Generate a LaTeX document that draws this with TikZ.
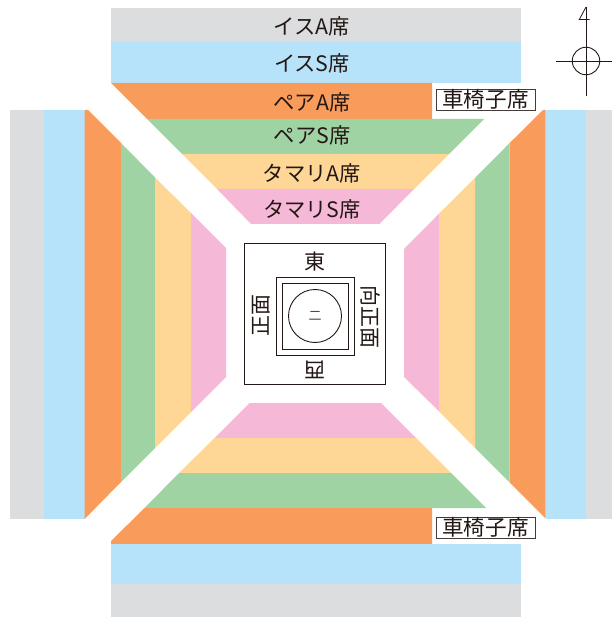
\documentclass[tikz,border=0pt]{standalone}
\usepackage{fontspec}
\setmainfont{Noto Sans CJK JP}
\usepackage{xcolor}
\definecolor{seatgray}{HTML}{DCDDDE}
\definecolor{seatblue}{HTML}{B6E3F9}
\definecolor{seatorange}{HTML}{F99C5B}
\definecolor{seatgreen}{HTML}{A0D3A3}
\definecolor{seatyellow}{HTML}{FED695}
\definecolor{seatpink}{HTML}{F5B8D6}
\definecolor{inkline}{HTML}{231815}

\begin{document}
\begin{tikzpicture}[
    x=1pt, y=-1pt,
    seat/.style={font=\fontsize{21.3}{25}\selectfont, text=inkline, inner sep=0pt},
    side/.style={font=\fontsize{21}{25}\selectfont, text=inkline, inner sep=0pt},
    wheel/.style={draw=inkline!85, line width=0.6pt, fill=white, font=\fontsize{21.6}{25}\selectfont, text=inkline, inner sep=0pt, minimum width=99pt, minimum height=21.4pt, text height=17pt, text depth=2pt},
    ring/.style={draw=inkline, line width=0.9pt}
]
\useasboundingbox (0,0) rectangle (612,617);

% top block
\fill[seatgray] (111,8.5) rectangle (521,42.5);
\fill[seatblue] (111,42.5) rectangle (521,83);
\fill[seatorange] (111,83) -- (432,83) -- (432,119) -- (147,119) -- cycle;
\fill[seatgreen] (147,119) -- (484,119) -- (449,154) -- (182,154) -- cycle;
\fill[seatyellow] (182,154) -- (449,154) -- (414,189) -- (217,189) -- cycle;
\fill[seatpink] (217,189) -- (414,189) -- (379.5,224) -- (251,224) -- cycle;

% bottom block
\fill[seatpink] (249.5,403) -- (381,403) -- (416,438) -- (214.5,438) -- cycle;
\fill[seatyellow] (214.5,438) -- (416,438) -- (451,473) -- (179,473) -- cycle;
\fill[seatgreen] (179,473) -- (451,473) -- (486,508) -- (144.5,508) -- cycle;
\fill[seatorange] (144.5,508) -- (432,508) -- (432,544) -- (111,544) -- (111,541) -- cycle;
\fill[seatblue] (111,544) rectangle (521,584.3);
\fill[seatgray] (111,584.3) rectangle (521,617);

% left block
\fill[seatgray] (9.5,110) rectangle (43.7,519);
\fill[seatblue] (43.7,110) rectangle (84.7,519);
\fill[seatorange] (84.7,110) -- (88,110) -- (121,143) -- (121,482) -- (84.7,519) -- cycle;
\fill[seatgreen] (121,143) -- (155,177.5) -- (155,448) -- (121,482) -- cycle;
\fill[seatyellow] (155,177.5) -- (191,213) -- (191,412) -- (155,448) -- cycle;
\fill[seatpink] (191,213) -- (226,248) -- (226,377) -- (191,412) -- cycle;

% right block
\fill[seatgray] (586,110) rectangle (612,518.5);
\fill[seatblue] (545.7,110) rectangle (586,518.5);
\fill[seatorange] (545.7,110) -- (543,110) -- (509.7,143) -- (509.7,482.7) -- (545.7,518.5) -- cycle;
\fill[seatgreen] (509.7,143) -- (475,178) -- (475,448) -- (509.7,482.7) -- cycle;
\fill[seatyellow] (475,178) -- (439.7,213) -- (439.7,412) -- (475,448) -- cycle;
\fill[seatpink] (439.7,213) -- (404,249) -- (404,377) -- (439.7,412) -- cycle;

% seat names
\node[seat] (isuA) at (312,26) {イスA席};
\node[seat] (isuS) at (312,63) {イスS席};
\node[seat] (pairA) at (312,102) {ペアA席};
\node[seat] (pairS) at (312,135) {ペアS席};
\node[seat] (tamariA) at (312,173) {タマリA席};
\node[seat] (tamariS) at (312,209) {タマリS席};
\node[wheel] (wheelN) at (485.5,100) {車椅子席};
\node[wheel] (wheelS) at (485.5,527.5) {車椅子席};

% ring
\node[ring, minimum width=141pt, minimum height=141pt, inner sep=0pt] (hall) at (315,313.5) {};
\node[ring, minimum width=78pt, minimum height=78pt, inner sep=0pt] (dohyoOuter) at (315,316) {};
\node[ring, minimum width=66pt, minimum height=66pt, inner sep=0pt] (dohyoInner) at (315,316) {};
\node[ring, circle, minimum size=53pt, inner sep=0pt] (circleIn) at (315,316) {};
\node[font=\fontsize{13}{15}\selectfont, text=inkline!80, inner sep=0pt] (ni) at (circleIn) {二};
\node[side] (east) at (315,262) {東};
\node[side, rotate=180] (west) at (315,370) {西};
\node[side, rotate=90] (front) at (261,315.5) {正面};
\node[side, rotate=-90] (backfront) at (370,316.5) {向正面};

% compass
\coordinate (needleTop) at (586,7);
\coordinate (needleEnd) at (586,96);
\coordinate (barL) at (556,61);
\coordinate (barR) at (612,61);
\node[ring, circle, minimum size=27.5pt, inner sep=0pt] (compass) at (586,61) {};
\draw[inkline, line width=0.8pt] (needleTop) -- (needleEnd);
\draw[inkline, line width=0.8pt] (barL) -- (barR);
\draw[inkline, line width=0.8pt] (needleTop) -- (579.3,19.5) -- (589.5,19.5);

\end{tikzpicture}
\end{document}
